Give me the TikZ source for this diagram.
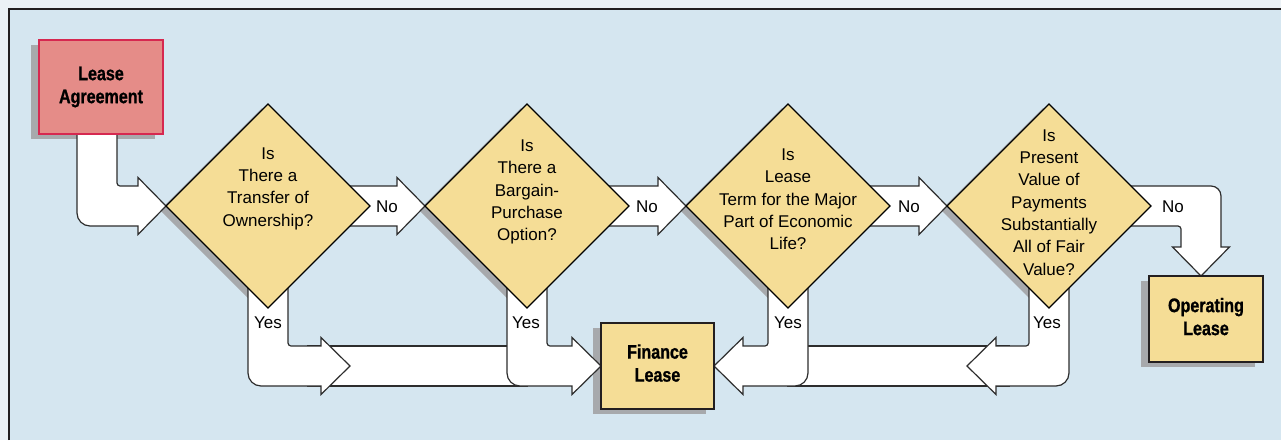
\documentclass[tikz,border=0pt]{standalone}
\usepackage{fontspec}
\setmainfont{Liberation Sans}
\newfontfamily\boxfont[FakeStretch=0.82,FakeBold=1]{Liberation Sans Bold}
\usetikzlibrary{shapes.geometric,calc}
\definecolor{marginblue}{RGB}{235,241,245}
\definecolor{panelblue}{RGB}{213,230,240}
\definecolor{qyellow}{RGB}{245,221,150}
\definecolor{leasered}{RGB}{229,140,136}
\definecolor{leaseedge}{RGB}{214,40,80}
\definecolor{shadowgray}{RGB}{167,169,172}
\definecolor{inkdark}{RGB}{35,31,32}
\definecolor{arrowink}{RGB}{45,45,45}
\pgfdeclarelayer{shade}
\pgfdeclarelayer{flow}
\pgfsetlayers{shade,flow,main}

\begin{document}
\begin{tikzpicture}[x=0.5pt,y=0.5pt,
	decision/.style={diamond,draw=black,line width=0.6pt,fill=qyellow,minimum width=102pt,minimum height=102pt,inner sep=0pt,outer sep=0pt},
	question/.style={align=center,inner sep=0pt,font=\fontsize{8.5}{11.15}\selectfont},
	result/.style={rectangle,draw=inkdark,line width=0.75pt,fill=qyellow,align=center,inner sep=0pt,outer sep=0pt,font=\boxfont\fontsize{9.8}{11.5}\selectfont},
	answer/.style={inner sep=0pt,font=\fontsize{8.5}{10}\selectfont},
	blockarrow/.style={draw=arrowink,line width=0.6pt,fill=white,line join=miter}]
		\useasboundingbox (0,0) rectangle (1281,-440);
		\begin{pgfonlayer}{shade}
		\fill [marginblue] (0,0) rectangle (1281,-440);
		\fill [panelblue] (8,-8) rectangle (1281,-440);
		\draw [inkdark,line width=1pt] (8.5,-440) -- (8.5,-8.5) -- (1281,-8.5);
		\end{pgfonlayer}
		% boxes and questions
		\node [result,fill=leasered,draw=leaseedge,line width=0.6pt,minimum width=62pt,minimum height=47pt] (lease) at (101,-87) {Lease\\Agreement};
		\node [decision] (d1) at (268,-206) {};
		\node [question] (q1) at ($(d1)+(0,17.5)$) {Is\\There a\\Transfer of\\Ownership?};
		\node [decision] (d2) at (527,-206) {};
		\node [question] (q2) at ($(d2)+(0,14)$) {Is\\There a\\Bargain-\\Purchase\\Option?};
		\node [decision] (d3) at (788,-206) {};
		\node [question] (q3) at ($(d3)+(0,6.5)$) {Is\\Lease\\Term for the Major\\Part of Economic\\Life?};
		\node [decision] (d4) at (1049,-206) {};
		\node [question] (q4) at ($(d4)+(0,3.5)$) {Is\\Present\\Value of\\Payments\\Substantially\\All of Fair\\Value?};
		\node [result,minimum width=56.5pt,minimum height=43pt,text depth=3pt] (finance) at (657.5,-366) {Finance\\Lease};
		\node [result,minimum width=57pt,minimum height=43pt,text depth=2.5pt] (operating) at (1206,-319) {Operating\\Lease};
		% shadows
		\begin{pgfonlayer}{shade}
		\fill [shadowgray] ($(lease.north west)+(-8,-5)$) rectangle ($(lease.south east)+(-8,-5)$);
		\fill [shadowgray] ($(finance.north west)+(-8,-5)$) rectangle ($(finance.south east)+(-8,-5)$);
		\fill [shadowgray] ($(operating.north west)+(-8,-5)$) rectangle ($(operating.south east)+(-8,-5)$);
		\fill [shadowgray] ($(d1.north)+(-6,-4)$) -- ($(d1.east)+(-6,-4)$) -- ($(d1.south)+(-6,-4)$) -- ($(d1.west)+(-6,-4)$) -- cycle;
		\fill [shadowgray] ($(d2.north)+(-6,-4)$) -- ($(d2.east)+(-6,-4)$) -- ($(d2.south)+(-6,-4)$) -- ($(d2.west)+(-6,-4)$) -- cycle;
		\fill [shadowgray] ($(d3.north)+(-6,-4)$) -- ($(d3.east)+(-6,-4)$) -- ($(d3.south)+(-6,-4)$) -- ($(d3.west)+(-6,-4)$) -- cycle;
		\fill [shadowgray] ($(d4.north)+(-6,-4)$) -- ($(d4.east)+(-6,-4)$) -- ($(d4.south)+(-6,-4)$) -- ($(d4.west)+(-6,-4)$) -- cycle;
		\end{pgfonlayer}
		% block arrows
		\begin{pgfonlayer}{flow}
		\draw [blockarrow] ($(d1)+(40,-140)$) rectangle ($(d2)+(0,-180)$);
		\draw [blockarrow] ($(d3)+(0,-140)$) rectangle ($(d4)+(-40,-180)$);
		\draw [blockarrow] ($(lease.south)+(16,0)$) -- ++(0,-26) [rounded corners=1.5pt] -- ++(0,-26) -- ++(10,0) [sharp corners] -- ($(d1.west)+(-28,20)$) -- ++(0,8.5) -- (d1.west) -- ++(-28,-28.5) -- ++(0,8.5) -- ++(-30,0) [rounded corners=6.5pt] -- ($(lease.south)+(-24,-92)$) -- ++(0,46) [sharp corners] -- ++(0,46) -- cycle;
		\draw [blockarrow] ($(d1)+(52,20)$) -- ($(d2.west)+(-28,20)$) -- ++(0,8.5) -- (d2.west) -- ++(-28,-28.5) -- ++(0,8.5) -- ($(d1)+(52,-20)$) -- cycle;
		\draw [blockarrow] ($(d2)+(52,20)$) -- ($(d3.west)+(-28,20)$) -- ++(0,8.5) -- (d3.west) -- ++(-28,-28.5) -- ++(0,8.5) -- ($(d2)+(52,-20)$) -- cycle;
		\draw [blockarrow] ($(d3)+(52,20)$) -- ($(d4.west)+(-28,20)$) -- ++(0,8.5) -- (d4.west) -- ++(-28,-28.5) -- ++(0,8.5) -- ($(d3)+(52,-20)$) -- cycle;
		\draw [blockarrow] ($(d4)+(51,20)$) -- ($(operating.north)+(-16,90)$) [rounded corners=5pt] -- ($(operating.north)+(15,90)$) -- ++(0,-30) [sharp corners] -- ($(operating.north)+(15,29)$) -- ++(8.5,0) -- ($(operating.north)+(-5,0)$) -- ++(-28.5,29) -- ++(8.5,0) -- ++(0,11) [rounded corners=1.5pt] -- ++(0,10) -- ++(-10,0) [sharp corners] -- ($(d4)+(51,-20)$) -- cycle;
		\draw [blockarrow] ($(d1)+(20,-64)$) -- ++(0,-66) [rounded corners=1.5pt] -- ++(0,-10) -- ++(10,0) [sharp corners] -- ++(23,0) -- ++(0,8.5) -- ++(29,-28.5) -- ++(-29,-28.5) -- ++(0,8.5) -- ++(-38,0) [rounded corners=6.5pt] -- ++(-35,0) -- ++(0,36) [sharp corners] -- ($(d1)+(-20,-64)$) -- cycle;
		\draw [blockarrow] ($(d2)+(20,-64)$) -- ++(0,-66) [rounded corners=1.5pt] -- ++(0,-10) -- ++(10,0) [sharp corners] -- ($(finance.west)+(-29,20)$) -- ++(0,8.5) -- (finance.west) -- ++(-29,-28.5) -- ++(0,8.5) -- ++(-30,0) [rounded corners=6.5pt] -- ($(d2)+(-20,-180)$) -- ++(0,36) [sharp corners] -- ($(d2)+(-20,-64)$) -- cycle;
		\draw [blockarrow] ($(d3)+(-20,-64)$) -- ++(0,-66) [rounded corners=1.5pt] -- ++(0,-10) -- ++(-10,0) [sharp corners] -- ($(finance.east)+(29,20)$) -- ++(0,8.5) -- (finance.east) -- ++(29,-28.5) -- ++(0,8.5) -- ++(30,0) [rounded corners=6.5pt] -- ($(d3)+(20,-180)$) -- ++(0,36) [sharp corners] -- ($(d3)+(20,-64)$) -- cycle;
		\draw [blockarrow] ($(d4)+(-20,-64)$) -- ++(0,-66) [rounded corners=1.5pt] -- ++(0,-10) -- ++(-10,0) [sharp corners] -- ++(-23,0) -- ++(0,8.5) -- ++(-29,-28.5) -- ++(29,-28.5) -- ++(0,8.5) -- ++(38,0) [rounded corners=6.5pt] -- ++(35,0) -- ++(0,36) [sharp corners] -- ($(d4)+(20,-64)$) -- cycle;
		\end{pgfonlayer}
		% answers
		\node [answer] (no1) at ($(d1.east)+(17,-1)$) {No};
		\node [answer] (no2) at ($(d2.east)+(18,-1)$) {No};
		\node [answer] (no3) at ($(d3.east)+(19,-1)$) {No};
		\node [answer] (no4) at ($(d4.east)+(22,-1)$) {No};
		\node [answer] (yes1) at ($(d1)+(0,-117)$) {Yes};
		\node [answer] (yes2) at ($(d2)+(-1,-117)$) {Yes};
		\node [answer] (yes3) at ($(d3)+(0,-117)$) {Yes};
		\node [answer] (yes4) at ($(d4)+(-2,-117)$) {Yes};
	\end{tikzpicture}
\end{document}
